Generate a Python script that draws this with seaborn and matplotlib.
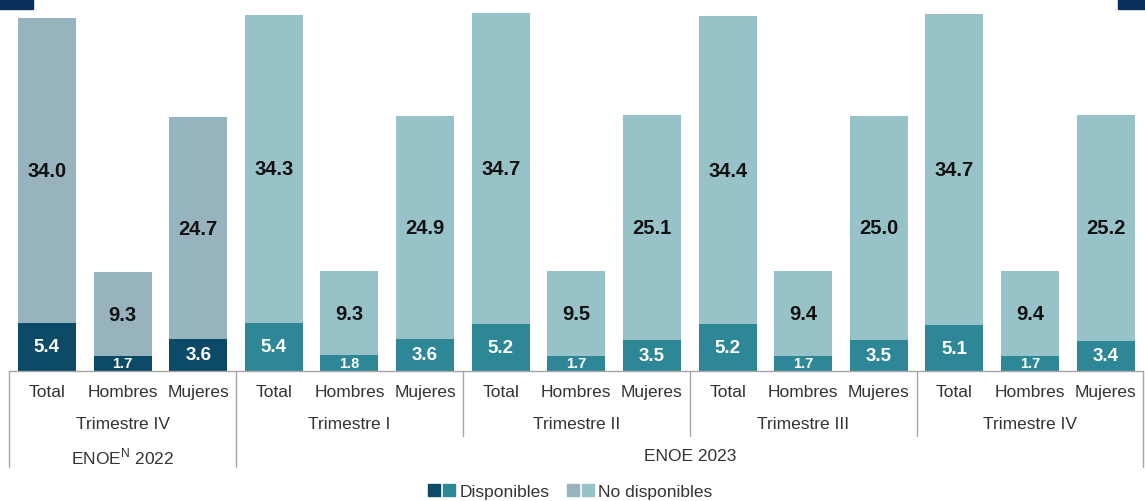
import numpy as np
import pandas as pd
import matplotlib
matplotlib.use("Agg")
import matplotlib.pyplot as plt
import seaborn as sns
from matplotlib.patches import Rectangle
from matplotlib.legend_handler import HandlerTuple

sexo = ["Total", "Hombres", "Mujeres"] * 5
trimestres = ["Trimestre IV", "Trimestre I", "Trimestre II", "Trimestre III", "Trimestre IV"]
encuestas = ["ENOE$^{\\mathregular{N}}$ 2022", "ENOE 2023"]
encuesta_de_trimestre = [0, 1, 1, 1, 1]
disponibles = [5.4, 1.7, 3.6, 5.4, 1.8, 3.6, 5.2, 1.7, 3.5, 5.2, 1.7, 3.5, 5.1, 1.7, 3.4]
no_disponibles = [34.0, 9.3, 24.7, 34.3, 9.3, 24.9, 34.7, 9.5, 25.1, 34.4, 9.4, 25.0, 34.7, 9.4, 25.2]

COL_DISP = {"2022": "#0c4a68", "2023": "#2e8796"}
COL_NODISP = {"2022": "#97b3bd", "2023": "#97c3c8"}
LINE = "#a6a6a6"
TXT = "#333333"

sns.set_theme(style="white")
plt.rcParams["font.family"] = ["Liberation Sans", "DejaVu Sans"]

n = len(sexo)
anio = ["2022" if encuesta_de_trimestre[i // 3] == 0 else "2023" for i in range(n)]
df = pd.DataFrame({
    "idx": np.arange(n),
    "sexo": sexo,
    "anio": anio,
    "disp": disponibles,
    "nodisp": no_disponibles,
})
df["total"] = df["disp"] + df["nodisp"]

fig = plt.figure(figsize=(11.45, 5.02), dpi=100)
ax = fig.add_axes([0, 0.259, 1, 0.741])

# stacked bars: full height first, then the lower segment on top
sns.barplot(data=df, x="idx", y="total", hue="anio", palette=COL_NODISP,
            dodge=False, width=0.766, legend=False, ax=ax, saturation=1,
            linewidth=0)
sns.barplot(data=df, x="idx", y="disp", hue="anio", palette=COL_DISP,
            dodge=False, width=0.766, legend=False, ax=ax, saturation=1,
            linewidth=0)

ax.set_xlim(-0.621, 14.52)
ax.set_ylim(0, 41.5)
ax.set_xlabel("")
ax.set_ylabel("")
ax.set_xticks([])
ax.set_yticks([])
for s in ax.spines.values():
    s.set_visible(False)

# value labels
for i in range(n):
    d, nd = disponibles[i], no_disponibles[i]
    ax.text(i, d + nd / 2, f"{nd:.1f}", ha="center", va="center",
            fontsize=14.5, fontweight="bold", color="#111111")
    ax.text(i, d / 2, f"{d:.1f}", ha="center", va="center",
            fontsize=10.5 if d < 2 else 13.5, fontweight="bold", color="white")

# table below the bars
tr = ax.get_xaxis_transform()
ax.plot([-0.5, 14.5], [0, 0], color=LINE, lw=1, transform=tr, clip_on=False)
for k in range(6):
    x = -0.5 + 3 * k
    deep = k in (0, 1, 5)
    ax.plot([x, x], [0, -0.258 if deep else -0.175], color=LINE, lw=1,
            transform=tr, clip_on=False)

for i in range(n):
    ax.text(i, -0.054, sexo[i], ha="center", va="center", fontsize=12.5,
            color=TXT, transform=tr)
for t, name in enumerate(trimestres):
    ax.text(3 * t + 1, -0.14, name, ha="center", va="center", fontsize=12.5,
            color=TXT, transform=tr)
ax.text(1, -0.228, encuestas[0], ha="center", va="center", fontsize=12.5,
        color=TXT, transform=tr)
ax.text(8.5, -0.228, encuestas[1], ha="center", va="center", fontsize=12.5,
        color=TXT, transform=tr)

# legend
sq = dict(marker="s", linestyle="none", markersize=9)
h_disp = (plt.Line2D([], [], color=COL_DISP["2022"], **sq),
          plt.Line2D([], [], color=COL_DISP["2023"], **sq))
h_nod = (plt.Line2D([], [], color=COL_NODISP["2022"], **sq),
         plt.Line2D([], [], color=COL_NODISP["2023"], **sq))
fig.legend([h_disp, h_nod], ["Disponibles", "No disponibles"],
           handler_map={tuple: HandlerTuple(ndivide=None, pad=0.15)},
           loc="center", bbox_to_anchor=(570 / 1145, 1 - 492 / 502),
           ncol=2, frameon=False, fontsize=12.5, handlelength=1.6,
           handletextpad=0.2, columnspacing=1.0, labelcolor=TXT)

# decorative corner blocks
fig.patches.append(Rectangle((0, 1 - 10 / 502), 33 / 1145, 10 / 502,
                             transform=fig.transFigure, color="#0a2f5c"))
fig.patches.append(Rectangle((1118 / 1145, 1 - 10 / 502), 27 / 1145, 10 / 502,
                             transform=fig.transFigure, color="#0a2f5c"))

fig.savefig("out.png", dpi=100)
